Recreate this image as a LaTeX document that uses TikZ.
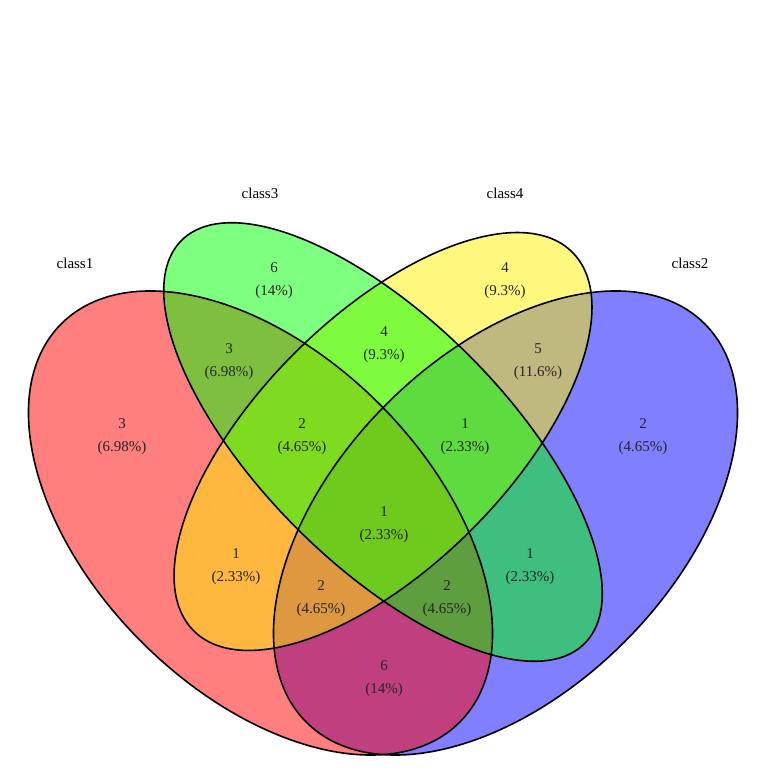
\documentclass[tikz,border=0pt]{standalone}
\usepackage{fontspec}
\setmainfont{Liberation Serif}
\begin{document}
\begin{tikzpicture}[x=1pt,y=1pt,
  venn/.style={line width=1.6pt},
  lab/.style={font=\fontsize{15}{23}\selectfont, align=center, inner sep=0pt, text=black!85},
  setlab/.style={font=\fontsize{15}{18}\selectfont, inner sep=0pt}]
\useasboundingbox (0,0) rectangle (768,768);
% centres
\coordinate (cR) at (260.5,245);
\coordinate (cB) at (505.5,245);
\coordinate (cG) at (383,326);
\coordinate (cY) at (383,326.5);
% fills (order: blue, red, yellow, green)
\fill[blue, fill opacity=0.5, rotate around={45:(cB)}] (cB) ellipse [x radius=281.7, y radius=168.2];
\fill[red, fill opacity=0.5, rotate around={-45:(cR)}] (cR) ellipse [x radius=281.7, y radius=168.2];
\fill[yellow, fill opacity=0.5, rotate around={45:(cY)}] (cY) ellipse [x radius=267.7, y radius=125];
\fill[green, fill opacity=0.5, rotate around={-45:(cG)}] (cG) ellipse [x radius=285, y radius=122];
% outlines
\draw[venn, rotate around={45:(cB)}] (cB) ellipse [x radius=281.7, y radius=168.2];
\draw[venn, rotate around={-45:(cR)}] (cR) ellipse [x radius=281.7, y radius=168.2];
\draw[venn, rotate around={45:(cY)}] (cY) ellipse [x radius=267.7, y radius=125];
\draw[venn, rotate around={-45:(cG)}] (cG) ellipse [x radius=285, y radius=122];
% set labels
\node[setlab] (l1) at (75,505) {class1};
\node[setlab] (l3) at (260,575) {class3};
\node[setlab] (l4) at (505,575) {class4};
\node[setlab] (l2) at (690,505) {class2};
% region labels
\node[lab] (g) at (274,487) {6\\(14\%)};
\node[lab] (y) at (505,487) {4\\(9.3\%)};
\node[lab] (r) at (122,331.5) {3\\(6.98\%)};
\node[lab] (b) at (643,331.5) {2\\(4.65\%)};
\node[lab] (rg) at (229,406.5) {3\\(6.98\%)};
\node[lab] (gy) at (384,423.5) {4\\(9.3\%)};
\node[lab] (yb) at (538,406.5) {5\\(11.6\%)};
\node[lab] (rgy) at (302,331.5) {2\\(4.65\%)};
\node[lab] (gyb) at (465,331.5) {1\\(2.33\%)};
\node[lab] (all) at (384,243) {1\\(2.33\%)};
\node[lab] (ry) at (236,201.5) {1\\(2.33\%)};
\node[lab] (gb) at (530,201.5) {1\\(2.33\%)};
\node[lab] (ryb) at (321,169.5) {2\\(4.65\%)};
\node[lab] (rgb) at (447,169.5) {2\\(4.65\%)};
\node[lab] (rb) at (384,89) {6\\(14\%)};
\end{tikzpicture}
\end{document}
